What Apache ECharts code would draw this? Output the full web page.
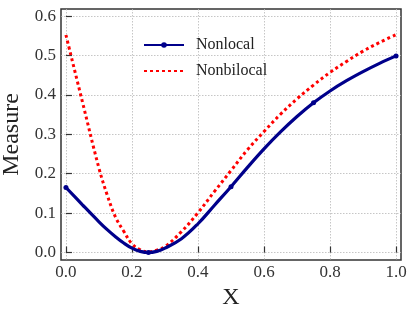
<!DOCTYPE html>
<html><head><meta charset="utf-8">
<script src="https://cdn.jsdelivr.net/npm/echarts@6/dist/echarts.min.js"></script>
<style>html,body{margin:0;padding:0;background:#fff}#c{width:415px;height:311px}</style>
</head><body><div id="c"></div>
<script>
const xs = [0,0.05,0.1,0.125,0.15,0.175,0.2,0.225,0.25,0.275,0.3,0.35,0.4,0.45,0.5,0.55,0.6,0.65,0.7,0.75,0.8,0.85,0.9,0.95,1];
const nonlocal = [0.165,0.121,0.078,0.058,0.040,0.024,0.011,0.003,0.0,0.003,0.011,0.035,0.073,0.120,0.167,0.216,0.263,0.306,0.345,0.380,0.410,0.436,0.459,0.480,0.499];
const nonbilocal = [0.552,0.382,0.214,0.146,0.090,0.054,0.022,0.007,0.002,0.006,0.015,0.053,0.101,0.155,0.208,0.261,0.307,0.351,0.390,0.425,0.457,0.485,0.511,0.533,0.553];
const markerX = [0,0.25,0.5,0.75,1];
const xTicks = [0,0.2,0.4,0.6,0.8,1.0];
const yTicks = [0,0.1,0.2,0.3,0.4,0.5,0.6];
const seriesNames = ['Nonlocal','Nonbilocal'];

const FONT = '"Liberation Serif", "DejaVu Serif", serif';
const chart = echarts.init(document.getElementById('c'), null, {renderer:'canvas'});
const gridLine = {show:true, lineStyle:{color:'#b8b8b8', width:0.8, type:[1.5,1.5]}};
chart.setOption({
  animation:false,
  backgroundColor:'#fff',
  grid:{left:61, right:14, top:9, bottom:51, outerBoundsMode:'none', containLabel:false,
        show:true, borderColor:'#333', borderWidth:1.5, backgroundColor:'transparent'},
  legend:{
    orient:'vertical', left:143, top:37, padding:0, itemWidth:40, itemHeight:7, itemGap:10,
    textStyle:{fontFamily:FONT, fontSize:16, color:'#222', padding:[0,0,0,7]},
    data:[{name:seriesNames[0]}, {name:seriesNames[1], itemStyle:{opacity:0}}]
  },
  xAxis:{
    type:'value', min:-0.015, max:1.015,
    name:'X', nameLocation:'middle', nameGap:25,
    nameTextStyle:{fontFamily:FONT, fontSize:24, color:'#222'},
    axisLine:{show:false},
    axisTick:{show:true, inside:true, length:6, customValues:xTicks, lineStyle:{color:'#333', width:1.2}},
    axisLabel:{customValues:xTicks, fontFamily:FONT, fontSize:17, color:'#333', margin:4, formatter:v=>v.toFixed(1)},
    splitLine:gridLine
  },
  yAxis:{
    type:'value', min:-0.019, max:0.618,
    name:'Measure', nameLocation:'middle', nameGap:36,
    nameTextStyle:{fontFamily:FONT, fontSize:24, color:'#222'},
    axisLine:{show:false},
    axisTick:{show:true, inside:true, length:6, customValues:yTicks, lineStyle:{color:'#333', width:1.2}},
    axisLabel:{customValues:yTicks, fontFamily:FONT, fontSize:17, color:'#333', margin:5, formatter:v=>v.toFixed(1)},
    splitLine:gridLine
  },
  series:[
    {
      name:seriesNames[0], type:'line', smooth:0.4,
      symbol:'circle', symbolSize:5,
      itemStyle:{color:'#00008b'},
      lineStyle:{color:'#00008b', width:3.2},
      data:xs.map((x,i)=>markerX.includes(x) ? {value:[x,nonlocal[i]]} : {value:[x,nonlocal[i]], symbol:'none'}),
      z:3
    },
    {
      name:seriesNames[1], type:'line', smooth:0.4,
      symbol:'none',
      itemStyle:{color:'#ff0000'},
      lineStyle:{color:'#ff0000', width:3, type:[3,3]},
      data:xs.map((x,i)=>[x,nonbilocal[i]]),
      z:2
    }
  ]
});
</script></body></html>
